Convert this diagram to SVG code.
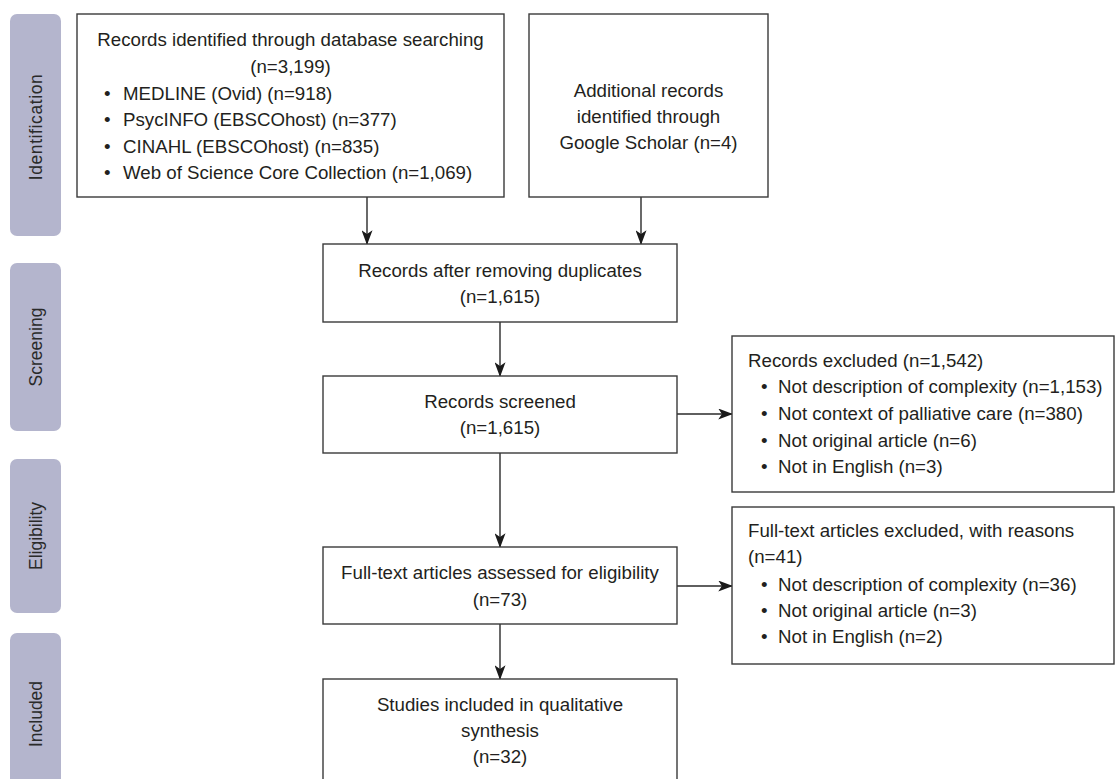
<svg xmlns="http://www.w3.org/2000/svg" width="1118" height="779" viewBox="0 0 1118 779">
<style>
.box{fill:#fff;stroke:#3a3a3a;stroke-width:1.4}
.pill{fill:#b4b5cd}
.t{font-family:"Liberation Sans",Arial,sans-serif;font-size:18.7px;fill:#231f20}
.c{text-anchor:middle}
.side{font-family:"Liberation Sans",Arial,sans-serif;font-size:17.5px;fill:#2a2a2a;text-anchor:middle;dominant-baseline:central}
.ln{stroke:#2a2a2a;stroke-width:1.4;fill:none;marker-end:url(#ah)}
</style>
<defs>
<marker id="ah" viewBox="0 0 16 12" markerWidth="15" markerHeight="11" refX="15" refY="6" orient="auto" markerUnits="userSpaceOnUse">
<path d="M0,0 L16,6 L0,12 L4,6 Z" fill="#1a1a1a"/>
</marker>
</defs>
<rect width="1118" height="779" fill="#fff"/>
<g id="phases">
<g id="phase-identification"><rect class="pill" x="10" y="14" width="51" height="222" rx="7"/><text class="side" transform="translate(36,127) rotate(-90)" letter-spacing="0.6">Identification</text></g>
<g id="phase-screening"><rect class="pill" x="10" y="263" width="51" height="168" rx="7"/><text class="side" transform="translate(36,347) rotate(-90)">Screening</text></g>
<g id="phase-eligibility"><rect class="pill" x="10" y="459" width="51" height="154" rx="7"/><text class="side" transform="translate(36,536) rotate(-90)">Eligibility</text></g>
<g id="phase-included"><rect class="pill" x="10" y="633" width="51" height="170" rx="7"/><text class="side" transform="translate(36,714) rotate(-90)">Included</text></g>
</g>
<g id="connectors">
<line class="ln" x1="367" y1="197" x2="367" y2="244"/>
<line class="ln" x1="641" y1="197" x2="641" y2="244"/>
<line class="ln" x1="500" y1="322" x2="500" y2="376"/>
<line class="ln" x1="677" y1="414" x2="732" y2="414"/>
<line class="ln" x1="500" y1="453" x2="500" y2="547"/>
<line class="ln" x1="677" y1="586" x2="732" y2="586"/>
<line class="ln" x1="500" y1="624" x2="500" y2="679"/>
</g>
<g id="node-database">
<rect class="box" x="77" y="14" width="427" height="183"/>
<text class="t c" x="290.5" y="46">Records identified through database searching</text>
<text class="t c" x="290.5" y="73">(n=3,199)</text>
<text class="t" x="104" y="100">•</text><text class="t" x="123" y="100">MEDLINE (Ovid) (n=918)</text>
<text class="t" x="104" y="126">•</text><text class="t" x="123" y="126">PsycINFO (EBSCOhost) (n=377)</text>
<text class="t" x="104" y="153">•</text><text class="t" x="123" y="153">CINAHL (EBSCOhost) (n=835)</text>
<text class="t" x="104" y="179">•</text><text class="t" x="123" y="179">Web of Science Core Collection (n=1,069)</text>
</g>
<g id="node-additional">
<rect class="box" x="529" y="14" width="239" height="183"/>
<text class="t c" x="648.5" y="97">Additional records</text>
<text class="t c" x="648.5" y="123">identified through</text>
<text class="t c" x="648.5" y="149">Google Scholar (n=4)</text>
</g>
<g id="node-duplicates">
<rect class="box" x="323" y="244" width="354" height="78"/>
<text class="t c" x="500" y="277">Records after removing duplicates</text>
<text class="t c" x="500" y="303">(n=1,615)</text>
</g>
<g id="node-screened">
<rect class="box" x="323" y="376" width="354" height="77"/>
<text class="t c" x="500" y="408">Records screened</text>
<text class="t c" x="500" y="434">(n=1,615)</text>
</g>
<g id="node-excluded">
<rect class="box" x="732" y="336" width="382" height="156"/>
<text class="t" x="748" y="367">Records excluded (n=1,542)</text>
<text class="t" x="761" y="393">•</text><text class="t" x="778" y="393">Not description of complexity (n=1,153)</text>
<text class="t" x="761" y="420">•</text><text class="t" x="778" y="420">Not context of palliative care (n=380)</text>
<text class="t" x="761" y="447">•</text><text class="t" x="778" y="447">Not original article (n=6)</text>
<text class="t" x="761" y="473">•</text><text class="t" x="778" y="473">Not in English (n=3)</text>
</g>
<g id="node-fulltext">
<rect class="box" x="323" y="547" width="354" height="77"/>
<text class="t c" x="500" y="579">Full-text articles assessed for eligibility</text>
<text class="t c" x="500" y="606">(n=73)</text>
</g>
<g id="node-fulltext-excluded">
<rect class="box" x="732" y="507" width="382" height="157"/>
<text class="t" x="748" y="537">Full-text articles excluded, with reasons</text>
<text class="t" x="748" y="563">(n=41)</text>
<text class="t" x="761" y="591">•</text><text class="t" x="778" y="591">Not description of complexity (n=36)</text>
<text class="t" x="761" y="617">•</text><text class="t" x="778" y="617">Not original article (n=3)</text>
<text class="t" x="761" y="643">•</text><text class="t" x="778" y="643">Not in English (n=2)</text>
</g>
<g id="node-included">
<rect class="box" x="323" y="679" width="354" height="120"/>
<text class="t c" x="500" y="711">Studies included in qualitative</text>
<text class="t c" x="500" y="737">synthesis</text>
<text class="t c" x="500" y="763">(n=32)</text>
</g>
</svg>
